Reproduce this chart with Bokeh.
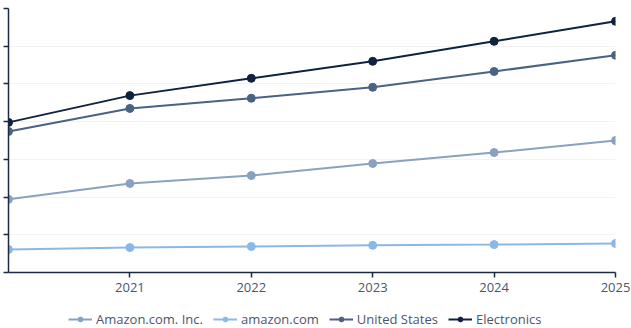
from bokeh.plotting import figure
from bokeh.models import Range1d, FixedTicker, Legend, LegendItem
from bokeh.layouts import column
from bokeh.embed import file_html
from bokeh.resources import INLINE

years = [2020, 2021, 2022, 2023, 2024, 2025]
amazon_inc = [19.4, 23.6, 25.7, 28.9, 31.8, 35.0]
amazon_com = [6.1, 6.6, 6.9, 7.2, 7.4, 7.7]
united_states = [37.4, 43.5, 46.2, 49.1, 53.3, 57.6]
electronics = [39.8, 46.9, 51.5, 56.0, 61.3, 66.6]
y_ticks = [0, 10, 20, 30, 40, 50, 60, 70]

series = [
    ("Amazon.com. Inc.", amazon_inc, "#8aa2c0"),
    ("amazon.com", amazon_com, "#8cb8e8"),
    ("United States", united_states, "#4a6284"),
    ("Electronics", electronics, "#0f2240"),
]

p = figure(frame_width=607, frame_height=264, output_backend="svg", toolbar_location=None,
           x_range=Range1d(2020, 2025), y_range=Range1d(0, 70),
           min_border_left=8, min_border_right=16, min_border_top=8, min_border_bottom=28)
p.outline_line_color = None
p.background_fill_color = "white"

# legend strip below the chart
q = figure(width=631, height=28, output_backend="svg", toolbar_location=None,
           x_range=Range1d(-10, -9), y_range=Range1d(-10, -9),
           x_axis_type=None, y_axis_type=None,
           min_border_left=0, min_border_right=0, min_border_top=0, min_border_bottom=0)
q.outline_line_color = None
q.grid.visible = False

items = []
for name, vals, col in series:
    p.line(years, vals, line_color=col, line_width=2)
    p.scatter(years, vals, size=8, fill_color=col, line_color=col)
    l = q.line(years, vals, line_color=col, line_width=2)
    s = q.scatter(years, vals, size=8, fill_color=col, line_color=col)
    items.append(LegendItem(label=name, renderers=[l, s]))

p.xaxis.ticker = FixedTicker(ticks=[2021, 2022, 2023, 2024, 2025])
p.yaxis.ticker = FixedTicker(ticks=y_ticks)
p.yaxis.major_label_overrides = {t: "" for t in y_ticks}
p.yaxis.major_label_standoff = 0
for ax in (p.xaxis[0], p.yaxis[0]):
    ax.axis_line_color = "#1c2a44"
    ax.axis_line_width = 1.5
    ax.major_tick_line_color = "#1c2a44"
    ax.major_tick_line_width = 1.5
    ax.major_tick_in = 0
    ax.major_tick_out = 5
    ax.minor_tick_line_color = None
p.xaxis.major_label_text_font = "Open Sans"
p.xaxis.major_label_text_font_size = "13px"
p.xaxis.major_label_text_color = "#4a5670"
p.xaxis.major_label_standoff = 5

p.xgrid.grid_line_color = None
p.ygrid.grid_line_color = "#f2f2f2"
p.ygrid.grid_line_width = 1

legend = Legend(items=items, orientation="horizontal", location=(60, 0),
                label_text_font="Open Sans", label_text_font_size="13px",
                label_text_color="#4a5670", border_line_color=None,
                background_fill_alpha=0, glyph_width=24, glyph_height=12,
                label_height=12, spacing=10,
                label_standoff=4, padding=0, margin=0)
q.add_layout(legend, "center")

layout = column(p, q, spacing=0)
open("out.html", "w").write(file_html(layout, INLINE))
